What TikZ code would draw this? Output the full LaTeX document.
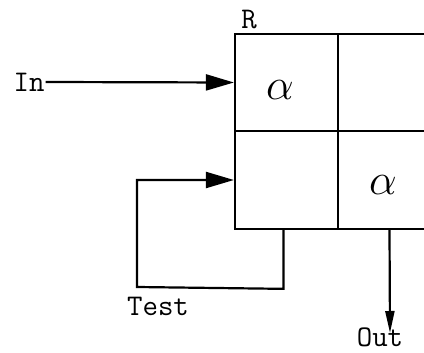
\documentclass[tikz,border=0pt]{standalone}
\usepackage{fix-cm}
\usepackage{fontspec}
\usetikzlibrary{arrows.meta}
\begin{document}
\begin{tikzpicture}[x=1pt,y=-1pt,line width=2.2pt,
  cell/.style={draw,rectangle,minimum width=103pt,minimum height=97.5pt,inner sep=0pt,line width=2.2pt},
  lbl/.style={inner sep=0pt,font=\ttfamily\fontsize{30}{30}\selectfont},
  greek/.style={inner sep=0pt,font=\fontsize{44}{44}\selectfont},
  arr/.style={-{Triangle[length=28pt,width=16pt]}},
  outarr/.style={-{Triangle[length=22pt,width=9pt]}}]
\useasboundingbox (0,0) rectangle (424,353);
\node[cell] (tl) at (286.5,82.5) {};
\node[cell] (tr) at (389.5,82.5) {};
\node[cell] (bl) at (286.5,180) {};
\node[cell] (br) at (389.5,180) {};
\node[greek] (a1) at (280,90) {$\alpha$};
\node[greek] (a2) at (383,185) {$\alpha$};
\node[lbl] (r) at (249,20) {R};
\node[lbl] (in) at (29,82) {In};
\node[lbl] (test) at (158,306.5) {Test};
\node[lbl] (out) at (380,337) {Out};
\coordinate (oe) at (390,333);
\draw[arr] (in.east) -- (tl.west);
\draw[arr] ([xshift=-3pt]bl.south) -- ++(0,59) -- (137,287) -- (137,180) -- (bl.west);
\draw[outarr] (br.south) -- (oe);
\end{tikzpicture}
\end{document}
